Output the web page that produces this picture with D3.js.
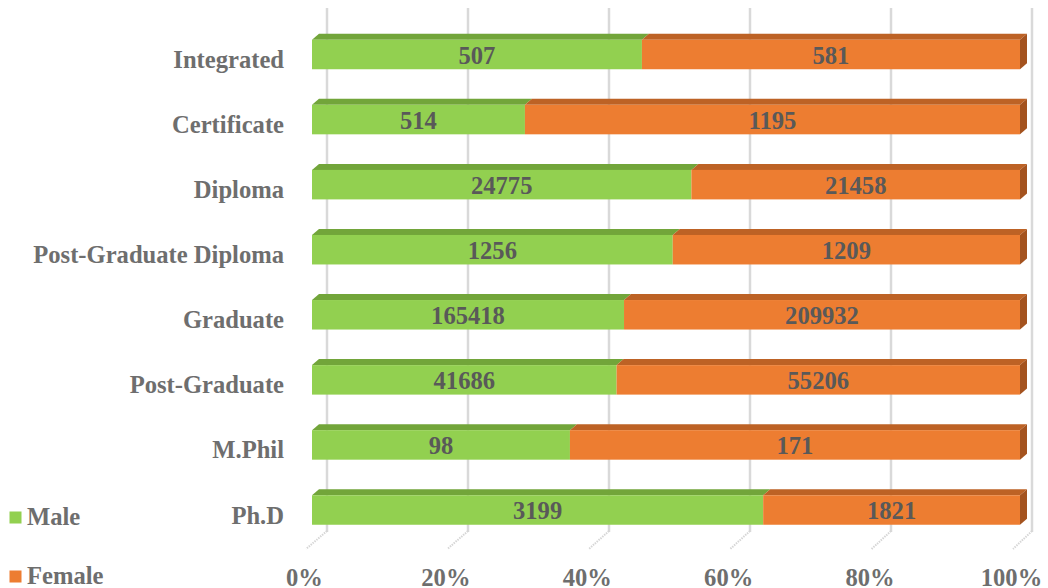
<!DOCTYPE html>
<html>
<head>
<meta charset="utf-8">
<script src="https://cdn.jsdelivr.net/npm/d3@7"></script>
<style>
  html, body { margin: 0; padding: 0; background: #fff; }
  svg { display: block; }
  text { font-family: "Liberation Serif", "Times New Roman", serif; font-weight: bold; }
</style>
</head>
<body>
<svg id="chart" width="1048" height="588"></svg>
<script>
const categories = ["Integrated", "Certificate", "Diploma", "Post-Graduate Diploma", "Graduate", "Post-Graduate", "M.Phil", "Ph.D"];
const maleValues = [507, 514, 24775, 1256, 165418, 41686, 98, 3199];
const femaleValues = [581, 1195, 21458, 1209, 209932, 55206, 171, 1821];
const seriesNames = ["Male", "Female"];
const tickValues = [0, 0.2, 0.4, 0.6, 0.8, 1.0];
const tickLabels = ["0%", "20%", "40%", "60%", "80%", "100%"];

const colors = { Male: "#92d050", Female: "#ed7d31" };
const topColors = { Male: "#72a53a", Female: "#bd6225" };
const sideColors = { Male: "#5f8a30", Female: "#a4531f" };

const svg = d3.select("#chart");

const rows = categories.map((c, i) => ({ category: c, Male: maleValues[i], Female: femaleValues[i] }));
const stacked = d3.stack().keys(seriesNames).offset(d3.stackOffsetExpand)(rows);

const xFront = d3.scaleLinear().domain([0, 1]).range([312, 1020]);
const xBack = d3.scaleLinear().domain([0, 1]).range([327, 1032]);
const xFloor = d3.scaleLinear().domain([0, 1]).range([304, 1011]);
const y = d3.scalePoint().domain(categories).range([54.5, 510]);
const barH = 29.5;
const dx = 7, dy = 6;
const fs = 24.6;

// gridlines (back wall)
const grid = svg.append("g");
grid.selectAll("line.g").data(tickValues).join("line")
  .attr("x1", d => xBack(d)).attr("x2", d => xBack(d))
  .attr("y1", 8).attr("y2", 532)
  .attr("stroke", "#d9d9d9").attr("stroke-width", 2.5);
// floor lines
grid.selectAll("line.f").data(tickValues).join("line")
  .attr("x1", d => xBack(d)).attr("x2", d => xFloor(d) + 2)
  .attr("y1", 531).attr("y2", 549)
  .attr("stroke", "#d6d6d6").attr("stroke-width", 2).attr("stroke-dasharray", "1.5,1");

// bars
const bars = svg.append("g");
stacked.forEach((s, si) => {
  const key = s.key;
  const g = bars.append("g");
  g.selectAll("polygon.top").data(s).join("polygon")
    .attr("points", d => {
      const x0 = xFront(d[0]), x1 = xFront(d[1]);
      const t = y(d.data.category) - barH / 2;
      return [[x0, t], [x1, t], [x1 + dx, t - dy], [x0 + dx, t - dy]].map(p => p.join(",")).join(" ");
    })
    .attr("fill", topColors[key]);
  g.selectAll("rect").data(s).join("rect")
    .attr("x", d => xFront(d[0]))
    .attr("width", d => xFront(d[1]) - xFront(d[0]))
    .attr("y", d => y(d.data.category) - barH / 2)
    .attr("height", barH)
    .attr("fill", colors[key]);
  if (si === stacked.length - 1) {
    g.selectAll("polygon.side").data(s).join("polygon")
      .attr("points", d => {
        const x1 = xFront(d[1]);
        const t = y(d.data.category) - barH / 2, b = t + barH;
        return [[x1, t], [x1 + dx, t - dy], [x1 + dx, b - dy], [x1, b]].map(p => p.join(",")).join(" ");
      })
      .attr("fill", sideColors[key]);
  }
  g.selectAll("text").data(s).join("text")
    .attr("x", d => (xFront(d[0]) + xFront(d[1])) / 2)
    .attr("y", d => y(d.data.category) + 9)
    .attr("text-anchor", "middle")
    .attr("font-size", fs)
    .attr("fill", "#595959")
    .text(d => d.data[key]);
});

// category labels
svg.append("g").selectAll("text").data(categories).join("text")
  .attr("x", 284)
  .attr("y", d => y(d) + 13.5)
  .attr("text-anchor", "end")
  .attr("font-size", fs)
  .attr("fill", "#6e6e6e")
  .text(d => d);

// x axis labels
const axis = d3.axisBottom(xFloor).tickValues(tickValues).tickFormat((d, i) => tickLabels[i]).tickSize(0).tickPadding(0);
const ax = svg.append("g").attr("transform", "translate(0,568)").call(axis);
ax.select(".domain").remove();
ax.selectAll("text")
  .attr("dy", null).attr("y", 17.5)
  .attr("font-size", fs)
  .attr("font-family", "Liberation Serif, Times New Roman, serif")
  .attr("font-weight", "bold")
  .attr("fill", "#6e6e6e");

// legend
const legend = svg.append("g");
seriesNames.forEach((n, i) => {
  const ly = 517.5 + i * 59;
  legend.append("rect").attr("x", 9.5).attr("y", ly - 6).attr("width", 12).attr("height", 12).attr("fill", colors[n]);
  legend.append("text").attr("x", 27).attr("y", ly + 7).attr("font-size", fs).attr("fill", "#6e6e6e").text(n);
});
</script>
</body>
</html>
